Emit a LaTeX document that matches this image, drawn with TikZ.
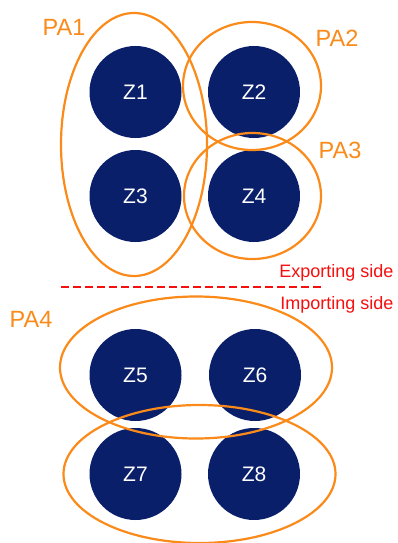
\documentclass[tikz,border=0pt]{standalone}
\usepackage{fontspec}
\setmainfont{Liberation Sans}
\definecolor{zonenavy}{RGB}{10,31,106}
\definecolor{paorange}{RGB}{250,138,25}
\definecolor{sidered}{RGB}{245,15,15}

\begin{document}
\begin{tikzpicture}[x=1pt, y=-1pt,
  zone/.style={circle, fill=zonenavy, minimum size=92pt, inner sep=0pt,
    text=white, font=\fontsize{21}{21}\selectfont},
  area/.style={draw=paorange, line width=2.2pt},
  arealabel/.style={text=paorange, font=\fontsize{23.5}{23.5}\selectfont},
  sidelabel/.style={text=sidered, font=\fontsize{18}{18}\selectfont, anchor=east}]

\useasboundingbox (0,0) rectangle (397,543);

% -------- zones -----------
\node [zone] (z1) at (135.5, 92)  {Z1};
\node [zone] (z2) at (254,   92)  {Z2};
\node [zone] (z3) at (135.5, 196) {Z3};
\node [zone] (z4) at (254,   196) {Z4};
\node [zone] (z5) at (135.5, 375) {Z5};
\node [zone] (z6) at (255,   375) {Z6};
\node [zone] (z7) at (135.5, 474) {Z7};
\node [zone] (z8) at (254,   474) {Z8};

% -------- price areas -----------
\draw [area] (134, 144.5) ellipse [x radius=73, y radius=131.5];
\draw [area] (252, 86)    ellipse [x radius=69, y radius=64];
\draw [area] (252.5, 196) ellipse [x radius=68.5, y radius=63];
\draw [area] (196, 367.5) ellipse [x radius=136, y radius=71];
\draw [area] (199.5, 474) ellipse [x radius=136, y radius=69];

\node [arealabel] (pa1) at (64, 27)  {PA1};
\node [arealabel] (pa2) at (337, 38) {PA2};
\node [arealabel] (pa3) at (340, 150) {PA3};
\node [arealabel] (pa4) at (31, 319) {PA4};

% -------- border -----------
\coordinate (bl) at (61, 286.5);
\coordinate (br) at (321, 286.5);
\draw [sidered, line width=2pt, dash pattern=on 8pt off 4pt] (bl) -- (br);
\node [sidelabel] (exp) at (397, 273) {Exporting side};
\node [sidelabel] (imp) at (397, 305) {Importing side};

\end{tikzpicture}
\end{document}
